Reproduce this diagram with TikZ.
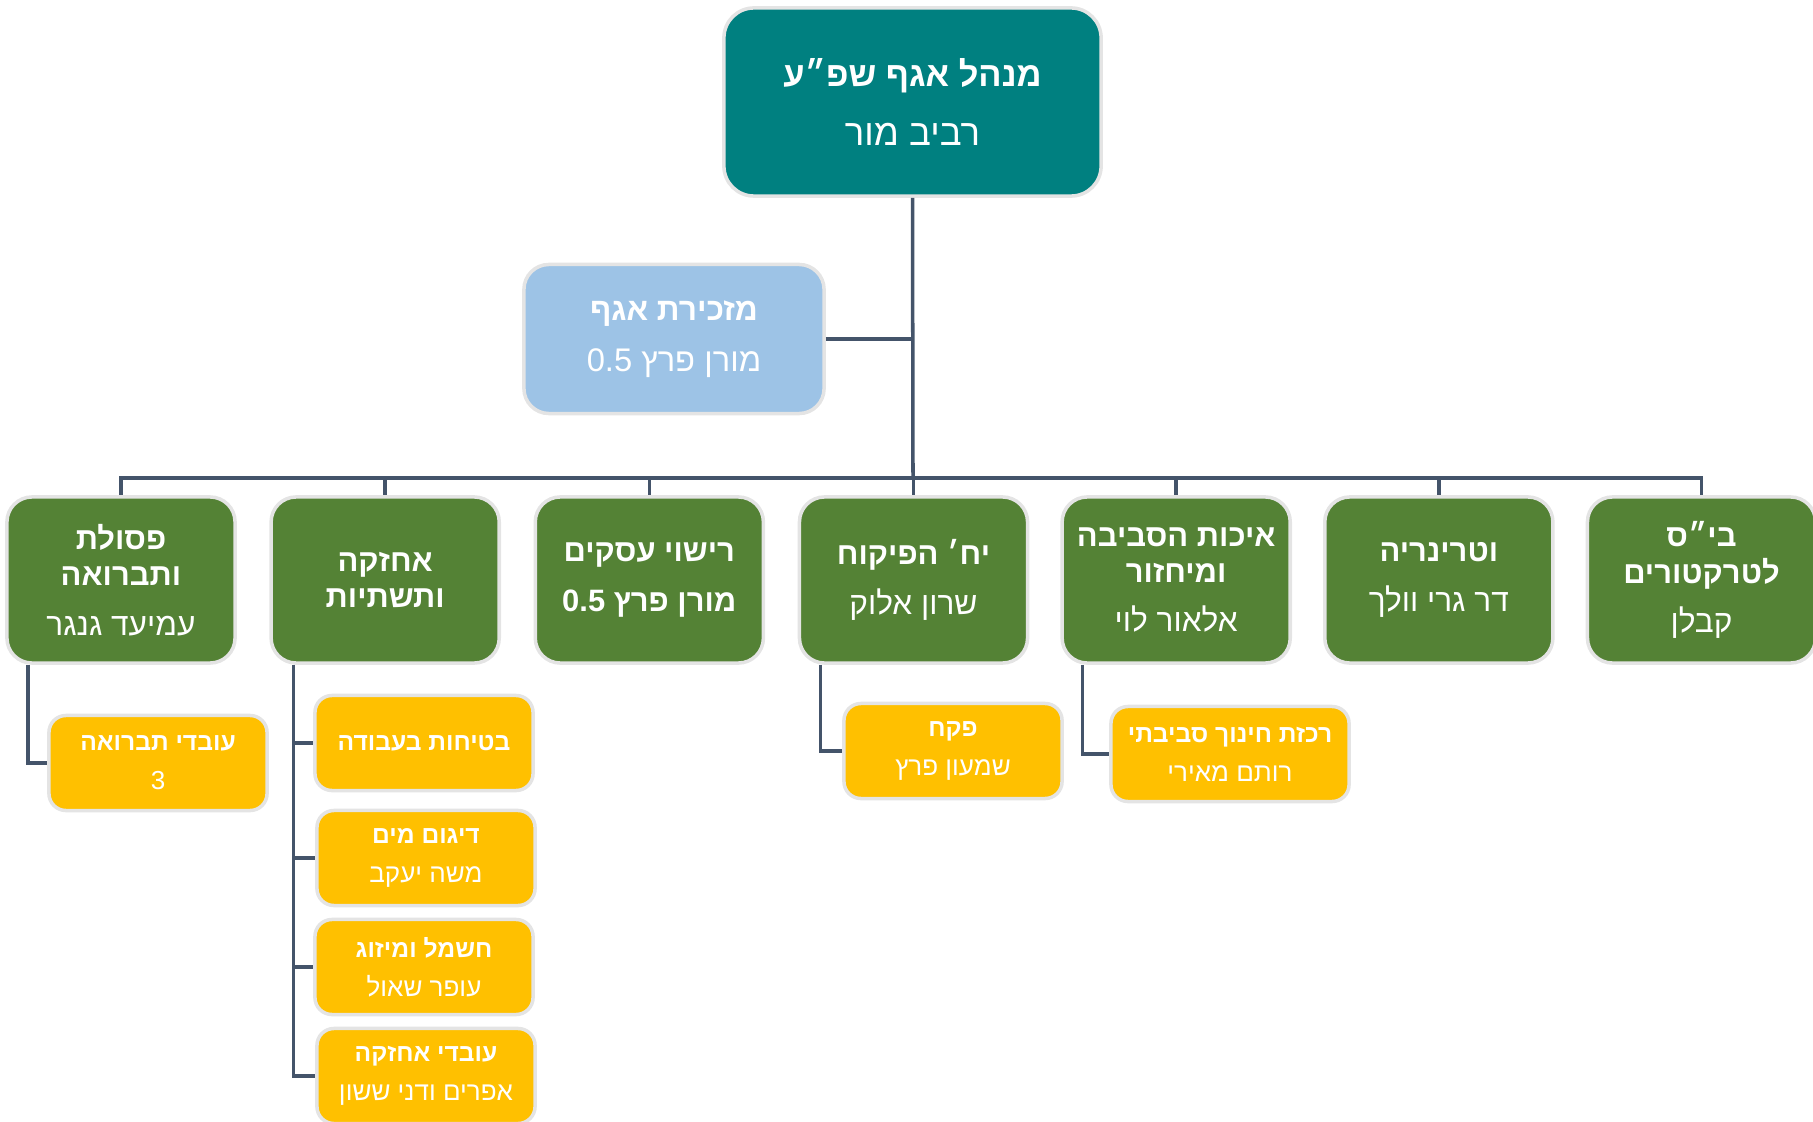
\documentclass[tikz,border=0pt]{standalone}
\usepackage{fontspec}
\setmainfont[Script=Hebrew]{Liberation Sans}
\TeXXeTstate=1
\usepackage{tikz}
\usetikzlibrary{positioning}

\definecolor{headteal}{HTML}{008080}
\definecolor{secblue}{HTML}{9DC3E6}
\definecolor{deptgreen}{HTML}{548235}
\definecolor{unityellow}{HTML}{FFC000}
\definecolor{linkgray}{HTML}{44546A}
\definecolor{rimgray}{HTML}{E4E4E4}

% title (bold) and name lines, right to left
\newcommand{\ttl}[1]{{\bfseries\beginR#1\endR}}
\newcommand{\nm}[1]{{\namesize\beginR#1\endR}}
\def\namesize{}

\begin{document}
\begin{tikzpicture}[x=0.01cm,y=-0.01cm,node distance=0.31cm,
    box/.style={rectangle,draw=rimgray,line width=1pt,text=white,align=center,inner sep=0pt},
    headbox/.style={box,fill=headteal,rounded corners=0.3cm,minimum width=3.77cm,minimum height=1.88cm,
      font=\fontsize{9.8}{16}\selectfont\def\namesize{\fontsize{10.4}{16}\selectfont}},
    secbox/.style={box,fill=secblue,rounded corners=0.25cm,minimum width=3.0cm,minimum height=1.49cm,
      font=\fontsize{9}{14.5}\selectfont\def\namesize{\fontsize{9.3}{14.5}\selectfont}},
    deptbox/.style={box,fill=deptgreen,rounded corners=0.25cm,minimum width=2.28cm,minimum height=1.66cm,
      font=\fontsize{8.8}{10.3}\selectfont\def\namesize{\fontsize{9}{10.3}\selectfont}},
    unitbox/.style={box,fill=unityellow,rounded corners=0.17cm,minimum width=2.18cm,minimum height=0.95cm,
      font=\fontsize{7}{11}\selectfont\def\namesize{\fontsize{7.4}{11}\selectfont}},
    link/.style={draw=linkgray,line width=1pt}]
  \useasboundingbox (0,0) rectangle (1813,1122);

  \node[headbox] (mgr) at (912.5,102) {\ttl{מנהל אגף שפ״ע}\\[1pt]\nm{רביב מור}};
  \node[secbox] (sec) at (674,339) {\ttl{מזכירת אגף}\\\nm{מורן פרץ 0.5}};
  \coordinate (bus) at (913,478);

  % departments
  \node[deptbox] (pikuah) at (913.5,580) {\ttl{יח׳ הפיקוח}\\[4pt]\nm{שרון אלוק}};
  \node[deptbox,left=0.325cm of pikuah] (rishui) {\ttl{רישוי עסקים}\\[4pt]\ttl{מורן פרץ 0.5}};
  \node[deptbox,left=0.325cm of rishui] (ahzaka) {\ttl{אחזקה}\\\ttl{ותשתיות}};
  \node[deptbox,left=0.325cm of ahzaka] (psolet) {\ttl{פסולת}\\\ttl{ותברואה}\\[3.7pt]\nm{עמיעד גנגר}};
  \node[deptbox,right=of pikuah] (eihut) {\ttl{איכות הסביבה}\\\ttl{ומיחזור}\\[3.7pt]\nm{אלאור לוי}};
  \node[deptbox,right=of eihut] (vet) {\ttl{וטרינריה}\\[4pt]\nm{דר גרי וולך}};
  \node[deptbox,right=of vet] (traktor) {\ttl{בי״ס}\\\ttl{לטרקטורים}\\[3.7pt]\nm{קבלן}};

  % units
  \node[unitbox] (tavrua) at (158,763) {\ttl{עובדי תברואה}\\\nm{3}};
  \node[unitbox] (betihut) at (424,743) {\ttl{בטיחות בעבודה}};
  \node[unitbox] (digum) at (426,858) {\ttl{דיגום מים}\\\nm{משה יעקב}};
  \node[unitbox] (hashmal) at (424,967) {\ttl{חשמל ומיזוג}\\\nm{עופר שאול}};
  \node[unitbox] (ovdim) at (426,1076) {\ttl{עובדי אחזקה}\\\nm{אפרים ודני ששון}};
  \node[unitbox] (pakah) at (953,751) {\ttl{פקח}\\\nm{שמעון פרץ}};
  \node[unitbox,minimum width=2.38cm] (rakezet) at (1230,754) {\ttl{רכזת חינוך סביבתי}\\\nm{רותם מאירי}};

  % connectors
  \draw[link] (mgr.south) -- (bus);
  \draw[link] (sec.east) -- (sec.east -| bus);
  \foreach \d in {psolet,ahzaka,rishui,pikuah,eihut,vet,traktor}
    \draw[link] (bus) -| (\d.north);
  \draw[link] ([xshift=0.23cm]psolet.south west) |- (tavrua.west);
  \foreach \u in {betihut,digum,hashmal,ovdim}
    \draw[link] ([xshift=0.24cm]ahzaka.south west) |- (\u.west);
  \draw[link] ([xshift=0.23cm]pikuah.south west) |- (pakah.west);
  \draw[link] ([xshift=0.22cm]eihut.south west) |- (rakezet.west);
\end{tikzpicture}
\end{document}
